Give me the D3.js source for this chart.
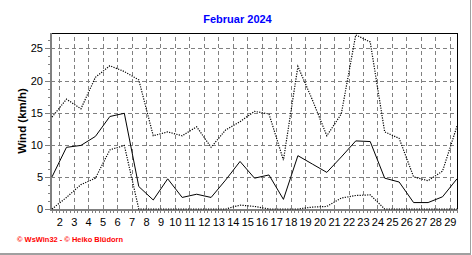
<!DOCTYPE html>
<html>
<head>
<meta charset="utf-8">
<script src="https://cdn.jsdelivr.net/npm/d3@7"></script>
<style>
  body { margin: 0; background: #fff; }
  svg { display: block; font-family: "Liberation Sans", Arial, sans-serif; }
</style>
</head>
<body>
<div id="chart"></div>
<script>
var width = 472,
    height = 255;

// day of month for each data point
var days = [1, 2, 3, 4, 5, 6, 7, 8, 9, 10, 11, 12, 13, 14, 15, 16, 17, 18, 19, 20,
            21, 22, 23, 24, 25, 26, 27, 28, 29];
// km/h
var maxWind = [14.3, 17.1, 15.6, 20.5, 22.3, 21.4, 20.1, 11.4, 12.0, 11.4, 12.8, 9.6, 12.3, 13.6, 15.2,
               14.8, 7.6, 22.2, 17.0, 11.4, 14.8, 27.1, 26.0, 12.0, 11.0, 5.0, 4.4, 5.9, 12.9];
var meanWind = [5.0, 9.6, 9.9, 11.3, 14.4, 14.9, 3.5, 1.4, 4.7, 1.8, 2.3, 1.8, 4.5, 7.4, 4.8,
                5.3, 1.5, 8.3, 7.0, 5.7, 8.1, 10.6, 10.5, 4.8, 4.2, 1.0, 1.0, 1.9, 4.7];
var minWind = [0, 1.8, 3.8, 4.8, 9.2, 9.9, 0, 0, 0, 0, 0, 0, 0, 0.6, 0.4,
               0, 0, 0, 0.3, 0.4, 1.7, 2.1, 2.2, 0, 0, 0, 0, 0, 0];
var xTickLabels = [2, 3, 4, 5, 6, 7, 8, 9, 10, 11, 12, 13, 14, 15, 16, 17, 18, 19, 20,
                   21, 22, 23, 24, 25, 26, 27, 28, 29];
var yTicks = [0, 5, 10, 15, 20, 25];

var plotLeft = 51, plotRight = 457, plotTop = 33, plotBottom = 209;

var x = d3.scaleLinear().domain([1, 29]).range([plotLeft + 1, plotRight]);
var y = d3.scaleLinear().domain([0, 27.4]).range([plotBottom, plotTop]);

var svg = d3.select("#chart").append("svg")
    .attr("width", width)
    .attr("height", height);

// outer frame (right and bottom edge of the image)
svg.append("line").attr("x1", 470.5).attr("x2", 470.5).attr("y1", 0).attr("y2", 254)
    .attr("stroke", "#a0a0a0").attr("stroke-width", 1);
svg.append("line").attr("x1", 0).attr("x2", 471).attr("y1", 254).attr("y2", 254)
    .attr("stroke", "#a0a0a0").attr("stroke-width", 2);

// title
svg.append("text")
    .attr("x", 237.5).attr("y", 23)
    .attr("text-anchor", "middle")
    .attr("font-size", 11).attr("font-weight", "bold")
    .style("fill", "#0000ff")
    .text("Februar 2024");

// grid lines
var yGrid = svg.append("g")
    .attr("transform", "translate(" + plotLeft + ",0)")
    .call(d3.axisLeft(y).tickValues([5, 10, 15, 20, 25]).tickSize(-(plotRight - plotLeft)).tickFormat(""));
var xGrid = svg.append("g")
    .attr("transform", "translate(0," + plotBottom + ")")
    .call(d3.axisBottom(x).tickValues(xTickLabels.map(function (d) { return d - 0.5; }))
        .tickSize(-(plotBottom - plotTop)).tickFormat(""));
[yGrid, xGrid].forEach(function (g) {
    g.select(".domain").remove();
    g.selectAll("line")
        .attr("stroke", "#808080")
        .attr("stroke-dasharray", "4,3")
        .attr("shape-rendering", "crispEdges");
});

// minor ticks
var minorX = [];
for (var i = 0; i <= 28 * 4; i++) minorX.push(1 + i / 4);
var xMinor = svg.append("g")
    .attr("transform", "translate(0," + (plotBottom + 1) + ")")
    .call(d3.axisBottom(x).tickValues(minorX).tickSize(3).tickFormat(""));
var minorY = [];
for (var j = 0; j <= 21; j++) minorY.push(j * 1.25);
var yMinor = svg.append("g")
    .attr("transform", "translate(" + (plotLeft - 1) + ",0)")
    .call(d3.axisLeft(y).tickValues(minorY).tickSize(2).tickFormat(""));
[xMinor, yMinor].forEach(function (g) {
    g.select(".domain").remove();
    g.selectAll("line").attr("stroke", "#808080").attr("shape-rendering", "crispEdges");
});

// y axis labels
var yAxis = svg.append("g")
    .attr("transform", "translate(" + (plotLeft - 1) + ",0)")
    .call(d3.axisLeft(y).tickValues(yTicks).tickSize(5).tickPadding(2));
yAxis.select(".domain").remove();
yAxis.selectAll("line").attr("stroke", "#808080").attr("shape-rendering", "crispEdges");
yAxis.selectAll("text")
    .attr("font-size", 11)
    .attr("font-family", "Liberation Sans, Arial, sans-serif")
    .style("fill", "#000");

// x axis labels
var xAxis = svg.append("g")
    .attr("transform", "translate(0," + (plotBottom + 1) + ")")
    .call(d3.axisBottom(x).tickValues(xTickLabels.map(function (d) { return d - 0.5; }))
        .tickSize(0).tickPadding(8)
        .tickFormat(function (d) { return d + 0.5; }));
xAxis.select(".domain").remove();
xAxis.selectAll("text")
    .attr("font-size", 11)
    .attr("font-family", "Liberation Sans, Arial, sans-serif")
    .style("fill", "#000");

// frame
svg.append("path")
    .attr("d", "M" + plotLeft + "," + plotTop + "H" + plotRight + "V" + plotBottom)
    .attr("fill", "none").attr("stroke", "#000").attr("stroke-width", 1)
    .attr("shape-rendering", "crispEdges");
svg.append("path")
    .attr("d", "M" + plotLeft + "," + plotTop + "V" + (plotBottom + 0.5) + "H" + (plotRight + 0.5))
    .attr("fill", "none").attr("stroke", "#808080").attr("stroke-width", 2)
    .attr("shape-rendering", "crispEdges");

// y axis title
svg.append("text")
    .attr("transform", "translate(26,121) rotate(-90)")
    .attr("text-anchor", "middle")
    .attr("font-size", 11.5).attr("font-weight", "bold")
    .style("fill", "#000")
    .text("Wind  (km/h)");

// series
var line = function (values) {
    return d3.line()
        .x(function (d, i) { return x(days[i]); })
        .y(function (d) { return y(d); })(values);
};

svg.append("path").attr("d", line(maxWind))
    .attr("fill", "none").attr("stroke", "#000").attr("stroke-width", 1.2)
    .attr("stroke-dasharray", "1.2,1.3");
svg.append("path").attr("d", line(minWind))
    .attr("fill", "none").attr("stroke", "#000").attr("stroke-width", 1.2)
    .attr("stroke-dasharray", "1.2,1.3");
svg.append("path").attr("d", line(meanWind))
    .attr("fill", "none").attr("stroke", "#000").attr("stroke-width", 1);

// footer
svg.append("text")
    .attr("x", 17).attr("y", 242)
    .attr("font-size", 7.5).attr("font-weight", "bold")
    .attr("textLength", 106).attr("lengthAdjust", "spacingAndGlyphs")
    .style("fill", "#ff0000")
    .text("\u00a9 WsWin32 - \u00a9 Heiko Bl\u00fcdorn");
</script>
</body>
</html>
